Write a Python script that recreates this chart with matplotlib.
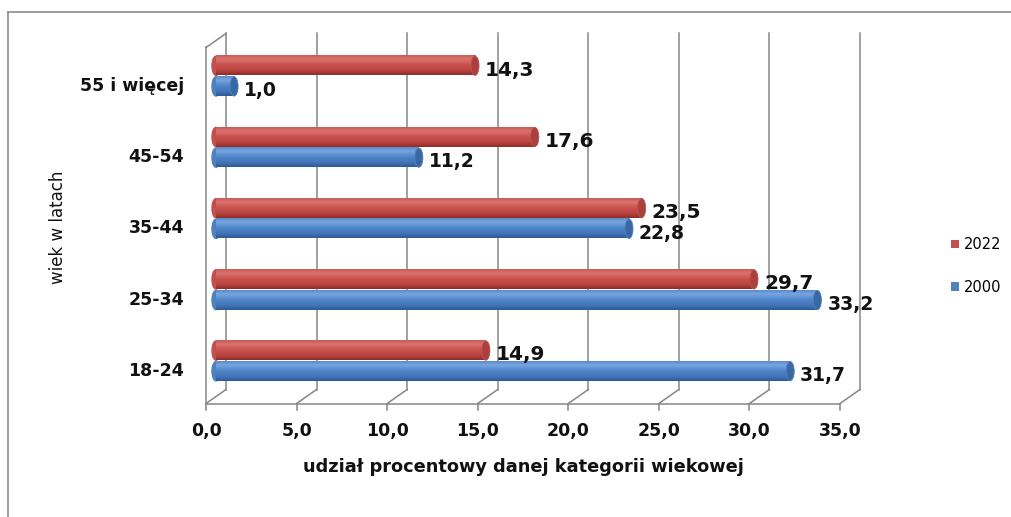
"""Horizontal 3D-style cylinder bar chart: age structure 2000 vs 2022."""
import matplotlib
matplotlib.use("Agg")
import matplotlib.pyplot as plt
import numpy as np
from matplotlib.colors import LinearSegmentedColormap
from matplotlib.lines import Line2D
from matplotlib.patches import Ellipse

categories = ["18-24", "25-34", "35-44", "45-54", "55 i więcej"]
values_2022 = [14.9, 29.7, 23.5, 17.6, 14.3]
values_2000 = [31.7, 33.2, 22.8, 11.2, 1.0]
xticks = [0, 5, 10, 15, 20, 25, 30, 35]
tick_labels = ["0,0", "5,0", "10,0", "15,0", "20,0", "25,0", "30,0", "35,0"]
series_labels = ["2022", "2000"]

plt.rcParams["font.family"] = ["DejaVu Sans"]

W, H, DPI = 1011, 517, 100
fig = plt.figure(figsize=(W / DPI, H / DPI), dpi=DPI)

# mid-depth plane of the 3D box, in pixels
X0, X35 = 216.0, 850.0
YTOP, YBOT = 40.5, 396.5
ax = fig.add_axes([X0 / W, 1 - YBOT / H, (X35 - X0) / W, (YBOT - YTOP) / H])
XMAX = 35
YLO, YHI = -0.5, len(categories) - 0.5
ax.set_xlim(0, XMAX)
ax.set_ylim(YLO, YHI)
ax.axis("off")

px_x = (X35 - X0) / XMAX            # pixels per data unit, x
px_y = (YBOT - YTOP) / (YHI - YLO)  # pixels per data unit, y
DX, DY = 10.0 / px_x, 7.0 / px_y    # half depth of the box

grid_kw = dict(color="#868686", lw=1.1, clip_on=False, zorder=1)
# back wall gridlines
for t in xticks:
    ax.plot([t + DX, t + DX], [YLO + DY, YHI + DY], **grid_kw)
# floor: front edge, depth diagonals, tick marks
ax.plot([-DX, XMAX - DX], [YLO - DY, YLO - DY], **grid_kw)
for t in xticks:
    ax.plot([t - DX, t + DX], [YLO - DY, YLO + DY], **grid_kw)
    ax.plot([t - DX, t - DX], [YLO - DY, YLO - DY - 6 / px_y], **grid_kw)
# left wall front edge + top diagonal
ax.plot([-DX, -DX], [YLO - DY, YHI - DY], **grid_kw)
ax.plot([-DX, DX], [YHI - DY, YHI + DY], **grid_kw)

red_cm = LinearSegmentedColormap.from_list(
    "red", [(0, "#8a2c29"), (0.22, "#b8433f"), (0.5, "#c9504c"),
            (0.8, "#da736f"), (1.0, "#c65a56")])
blue_cm = LinearSegmentedColormap.from_list(
    "blue", [(0, "#2c5990"), (0.22, "#4274b8"), (0.5, "#4d83c8"),
             (0.8, "#77a6e0"), (1.0, "#5a8ac9")])
grad = np.linspace(0, 1, 128).reshape(-1, 1)

y = np.arange(len(categories))
bar_h = 0.27
off = 0.145
cap_w = 8.0 / px_x

series = [
    (values_2022, y + off, "#c0504d", "#a9403d", red_cm, 14.5),
    (values_2000, y - off, "#4f81bd", "#3a68a3", blue_cm, 13.5),
]
handles = []
for (vals, ypos, base, capc, cm, fs), lab in zip(series, series_labels):
    bars = ax.barh(ypos, vals, height=bar_h, color=base, zorder=3, label=lab)
    handles.append(bars)
    for rect, v in zip(bars, vals):
        x0, y0 = rect.get_x(), rect.get_y()
        w, hh = rect.get_width(), rect.get_height()
        ax.add_patch(Ellipse((x0, y0 + hh / 2), cap_w, hh, color=base,
                             zorder=2, clip_on=False))
        ax.imshow(grad, extent=(x0, x0 + w, y0, y0 + hh), origin="lower",
                  aspect="auto", cmap=cm, interpolation="bicubic",
                  zorder=4, clip_path=rect)
        ax.add_patch(Ellipse((x0 + w, y0 + hh / 2), cap_w, hh, facecolor=capc,
                             edgecolor=base, lw=0.6, zorder=5, clip_on=False))
        ax.text(v + 0.55, y0 + hh / 2 - 0.06, f"{v:.1f}".replace(".", ","),
                ha="left", va="center", fontsize=fs, fontweight="bold",
                color="#111111", zorder=6)

ax.set_xlim(0, XMAX)
ax.set_ylim(YLO, YHI)

# category labels (sit on the front plane)
for yi, cat in zip(y, categories):
    ax.text((184 - X0) / px_x, yi - 10 / px_y, cat, ha="right", va="center",
            fontsize=12.5, fontweight="bold", color="#111111", clip_on=False)

# x tick labels under the front floor edge
for t, lab in zip(xticks, tick_labels):
    ax.text(t - DX, YLO - (431 - YBOT) / px_y, lab, ha="center", va="center",
            fontsize=12.5, fontweight="bold", color="#111111", clip_on=False)

ax.text(XMAX / 2 - DX, YLO - (467 - YBOT) / px_y,
        "udział procentowy danej kategorii wiekowej", ha="center", va="center",
        fontsize=12.8, fontweight="bold", color="#111111", clip_on=False)
ax.text((58 - X0) / px_x, YHI - (227 - YTOP) / px_y, "wiek w latach",
        ha="center", va="center", rotation=90, fontsize=12,
        color="#111111", clip_on=False)

fig.legend(handles=handles, labels=series_labels, loc="center left",
           bbox_to_anchor=(938 / W, 1 - 266 / H), frameon=False, fontsize=10.5,
           handlelength=0.55, handleheight=0.55, handletextpad=0.3,
           labelspacing=1.9)

# outer chart frame (left and top edges visible)
frame_kw = dict(color="#8c8c8c", lw=1.2, transform=fig.transFigure)
fig.add_artist(Line2D([8 / W, 8 / W], [0, 1 - 12 / H], **frame_kw))
fig.add_artist(Line2D([8 / W, 1], [1 - 12 / H, 1 - 12 / H], **frame_kw))

fig.savefig("out.png", dpi=DPI)
